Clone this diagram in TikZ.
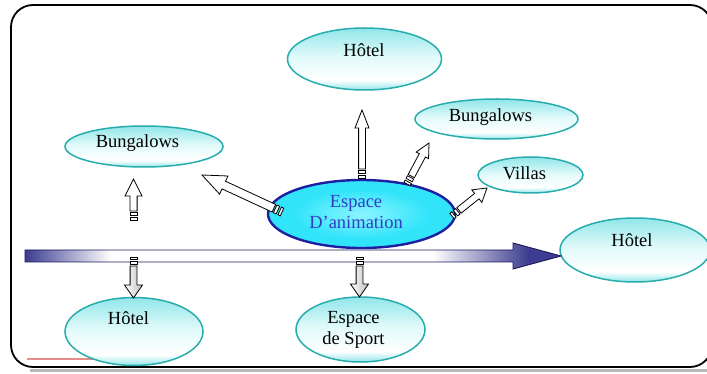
\documentclass[tikz,border=0pt]{standalone}
\usepackage{fontspec}
\setmainfont{Liberation Serif}
\usetikzlibrary{shapes.geometric,calc}
\definecolor{tealb}{RGB}{40,172,172}
\definecolor{tealf}{RGB}{145,230,234}
\definecolor{tealm}{RGB}{225,250,250}
\definecolor{animb}{RGB}{30,30,160}
\definecolor{animf}{RGB}{50,228,250}
\definecolor{animc}{RGB}{140,245,255}
\definecolor{animt}{RGB}{50,60,200}
\definecolor{navy1}{RGB}{60,60,145}
\definecolor{navyb}{RGB}{25,25,90}
\definecolor{pinkl}{RGB}{230,140,140}
\pgfdeclareverticalshading{tealsh}{100bp}{color(0bp)=(tealf); color(25bp)=(tealf); color(33bp)=(white); color(52bp)=(tealm); color(75bp)=(tealf); color(100bp)=(tealf)}
\pgfdeclarehorizontalshading{bigsh}{100bp}{color(0bp)=(navy1); color(25bp)=(navy1); color(33bp)=(white); color(63bp)=(white); color(72bp)=(navy1); color(100bp)=(navy1)}
\pgfdeclareradialshading{animsh}{\pgfpoint{0bp}{0bp}}{color(0bp)=(animc); color(18bp)=(animf); color(50bp)=(animf)}
\tikzset{
  ell/.style={ellipse, draw=tealb, line width=1.5pt, shading=tealsh, inner sep=0pt},
  lbl/.style={font=\fontsize{18.5}{21}\selectfont, align=center, inner sep=0pt},
  arrowline/.style={draw=black, line width=0.8pt, fill=white, line join=miter},
  upfill/.style={fill=white},
  downfill/.style={left color=white, right color=gray!50},
}
% #1 base, #2 tip, #3 shaft half width, #4 head half width, #5 head length, #6 fill style
\newcommand\stripedarrow[6]{%
  \path let \p1=(#1), \p2=(#2) in \pgfextra{%
    \pgfmathsetmacro\saA{atan2(\y2-\y1,\x2-\x1)}%
    \pgfmathsetmacro\saL{veclen(\x2-\x1,\y2-\y1)}%
    \global\let\saA\saA\global\let\saL\saL};
  \pgfmathsetmacro\saH{\saL-#5}%
  \begin{scope}[shift={(#1)},rotate=\saA]
    \filldraw[arrowline] (0pt,-#3pt) rectangle (2.5pt,#3pt);
    \filldraw[arrowline] (4.5pt,-#3pt) rectangle (7.5pt,#3pt);
    \filldraw[arrowline,#6] (9pt,-#3pt) -- (\saH pt,-#3pt) -- (\saH pt,-#4pt) -- (\saL pt,0pt)
       -- (\saH pt,#4pt) -- (\saH pt,#3pt) -- (9pt,#3pt) -- cycle;
  \end{scope}}
\begin{document}
\begin{tikzpicture}[x=1pt,y=-1pt]
\useasboundingbox (0,0) rectangle (707,374);
% frame
\draw[gray!55, line width=3pt] (30,370.5) -- (712,370.5);
\draw[line width=1.8pt, rounded corners=22pt] (11,5) rectangle (712,367);
\draw[pinkl, line width=2.8pt] (27,359) -- (110,359);
% ellipses
\node[ell, minimum width=154pt, minimum height=62pt] (hotelT) at (364.5,59) {};
\node[ell, minimum width=163pt, minimum height=40pt] (bungR) at (496.5,119) {};
\node[ell, minimum width=158pt, minimum height=41pt] (bungL) at (144,146.5) {};
\node[ell, minimum width=105pt, minimum height=36pt] (villas) at (530.5,175) {};
\node[ell, minimum width=150pt, minimum height=64pt] (hotelR) at (635,250) {};
\node[ell, minimum width=138pt, minimum height=68pt] (hotelBL) at (134,331.5) {};
\node[ell, minimum width=129pt, minimum height=65pt] (sport) at (360.5,329.5) {};
\node[ellipse, draw=animb, line width=2.4pt, shading=animsh, inner sep=0pt,
      minimum width=187pt, minimum height=68pt] (anim) at (361.5,214) {};
% big arrow
\coordinate (bigstart) at (25,256);
\coordinate (bigtip) at (561,256);
\path[shading=bigsh, draw=navyb, line width=0.9pt]
  ($(bigstart)+(0,-6)$) -- ($(bigtip)+(-48,-6)$) -- ($(bigtip)+(-48,-13)$) -- (bigtip)
  -- ($(bigtip)+(-48,13)$) -- ($(bigtip)+(-48,6)$) -- ($(bigstart)+(0,6)$) -- cycle;
% small arrows
\coordinate (a1b) at (133.5,220); \coordinate (a1t) at (133.5,179);
\coordinate (a2b) at (282,212);   \coordinate (a2t) at (202,175);
\coordinate (a3b) at (362,178);   \coordinate (a3t) at (362,110);
\coordinate (a4b) at (407,184);   \coordinate (a4t) at (429,143);
\coordinate (a5b) at (452,216);   \coordinate (a5t) at (487,188);
\coordinate (d1b) at (133.5,257); \coordinate (d1t) at (133.5,298);
\coordinate (d2b) at (359.5,257); \coordinate (d2t) at (359.5,297);
\stripedarrow{a1b}{a1t}{3.6}{8.5}{17}{upfill}
\stripedarrow{a2b}{a2t}{4.2}{10}{24}{upfill}
\stripedarrow{a3b}{a3t}{3.4}{7}{18}{upfill}
\stripedarrow{a4b}{a4t}{3.5}{7}{14}{upfill}
\stripedarrow{a5b}{a5t}{3.5}{8}{13}{upfill}
\stripedarrow{d1b}{d1t}{3.4}{9}{13}{downfill}
\stripedarrow{d2b}{d2t}{3.4}{9}{13}{downfill}
% labels
\node[lbl] (thotelT) at (364,50) {Hôtel};
\node[lbl] (tbungR) at (490.5,117) {Bungalows};
\node[lbl] (tbungL) at (137.5,143) {Bungalows};
\node[lbl] (tvillas) at (524.5,173) {Villas};
\node[lbl] (thotelR) at (632,240) {Hôtel};
\node[lbl] (thotelBL) at (128.5,318) {Hôtel};
\node[lbl] (tsport) at (353.5,329.5) {Espace\\de Sport};
\node[lbl, text=animt] (tanim) at (356,212.5) {Espace\\D’animation};
\end{tikzpicture}
\end{document}
